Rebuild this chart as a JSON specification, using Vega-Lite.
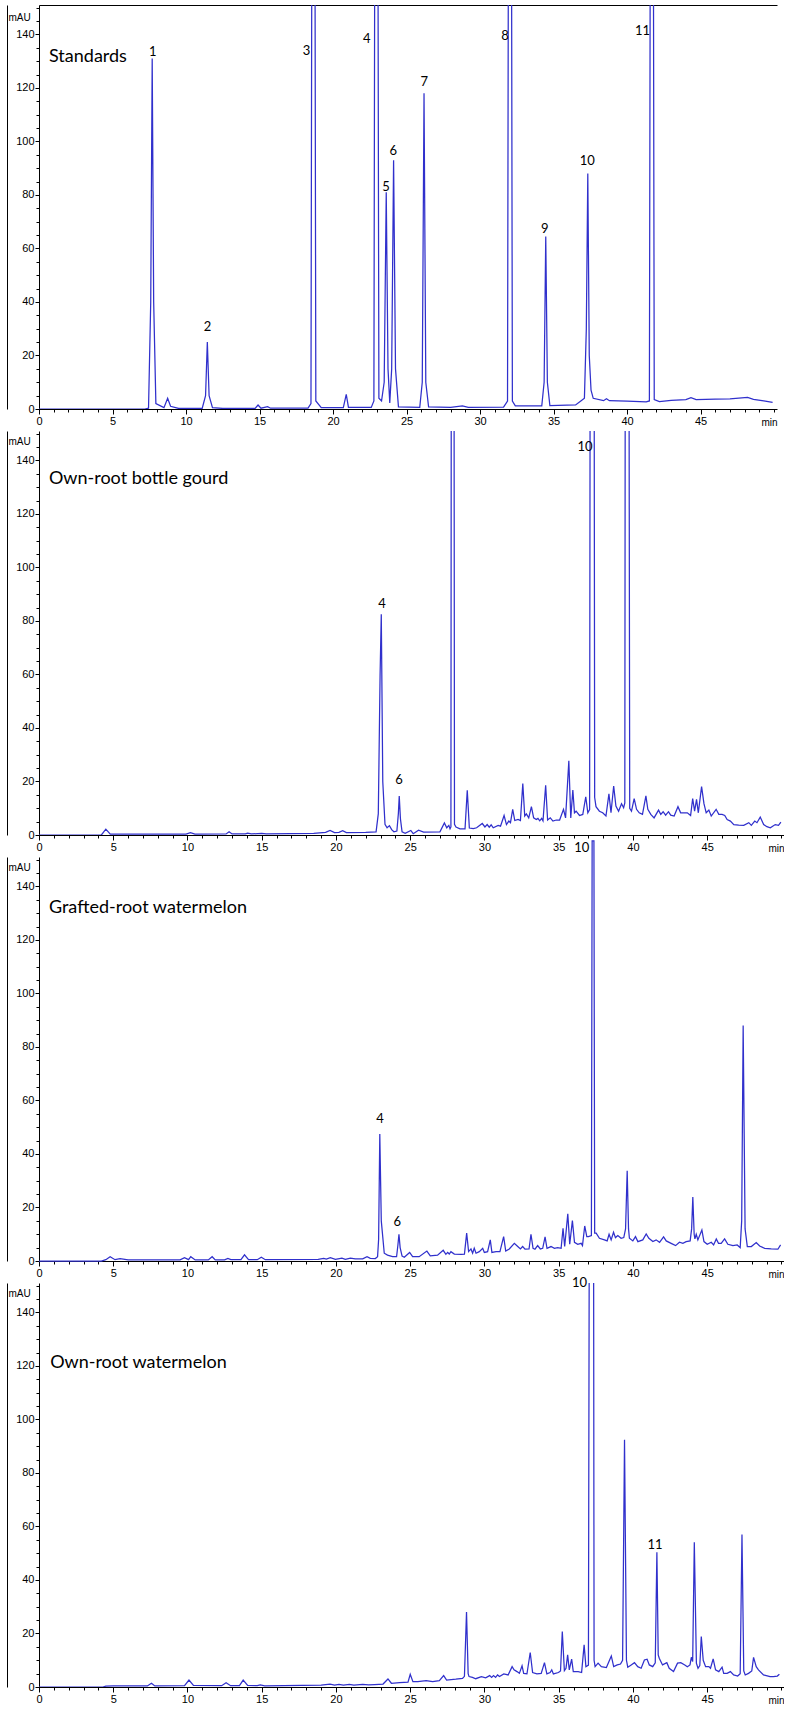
{
  "$schema": "https://vega.github.io/schema/vega-lite/v6.json",
  "padding": {"left": 7, "top": 5, "right": 0, "bottom": 0},
  "background": "white",
  "bounds": "flush",
  "spacing": 22,
  "config": {
    "view": {"stroke": null},
    "axis": {"domainColor": "#000", "tickColor": "#000", "labelColor": "#000", "titleColor": "#000", "labelFont": "Liberation Sans", "titleFont": "Liberation Sans", "domainWidth": 1, "tickWidth": 1, "grid": false}
  },
  "datasets": {
    "p1": [
      {"t":0,"v":0},{"t":7.2,"v":0},{"t":7.45,"v":0.3},{"t":7.6,"v":40},{"t":7.7,"v":131},{"t":7.8,"v":40},{"t":7.95,"v":2},{"t":8.5,"v":0.5},{"t":8.75,"v":4},{"t":8.95,"v":1},{"t":9.5,"v":0.2},{"t":11.1,"v":0.2},{"t":11.33,"v":5},{"t":11.45,"v":25},{"t":11.57,"v":5},{"t":11.8,"v":0.5},{"t":12.5,"v":0.2},{"t":14.7,"v":0.2},{"t":14.9,"v":1.5},{"t":15.1,"v":0.3},{"t":15.55,"v":0.9},{"t":15.75,"v":0.3},{"t":18.3,"v":0.3},{"t":18.5,"v":2},{"t":18.6,"v":300},{"t":18.73,"v":300},{"t":18.83,"v":3},{"t":19.2,"v":0.5},{"t":20.7,"v":0.5},{"t":20.9,"v":5.5},{"t":21.05,"v":0.6},{"t":22.6,"v":0.6},{"t":22.78,"v":3},{"t":22.88,"v":300},{"t":23.01,"v":300},{"t":23.12,"v":4},{"t":23.3,"v":3},{"t":23.48,"v":10},{"t":23.62,"v":81},{"t":23.74,"v":15},{"t":23.86,"v":2.3},{"t":23.99,"v":15},{"t":24.12,"v":93},{"t":24.25,"v":15},{"t":24.45,"v":0.8},{"t":25.9,"v":0.6},{"t":26.07,"v":10},{"t":26.19,"v":118},{"t":26.31,"v":10},{"t":26.5,"v":0.8},{"t":28,"v":0.6},{"t":28.8,"v":1.2},{"t":29.2,"v":0.6},{"t":31.6,"v":0.7},{"t":31.87,"v":3},{"t":31.97,"v":300},{"t":32.1,"v":300},{"t":32.2,"v":3},{"t":32.4,"v":1.2},{"t":34.2,"v":1.2},{"t":34.36,"v":10},{"t":34.47,"v":64.5},{"t":34.58,"v":10},{"t":34.75,"v":1.3},{"t":36.5,"v":1.5},{"t":36.9,"v":3.2},{"t":37.1,"v":4},{"t":37.23,"v":30},{"t":37.33,"v":88},{"t":37.43,"v":20},{"t":37.55,"v":7},{"t":37.7,"v":4},{"t":38.4,"v":3.1},{"t":38.6,"v":3.8},{"t":38.8,"v":3.1},{"t":40,"v":2.9},{"t":41.3,"v":2.7},{"t":41.52,"v":3},{"t":41.62,"v":300},{"t":41.75,"v":300},{"t":41.85,"v":3.5},{"t":42.2,"v":2.8},{"t":43,"v":3.2},{"t":44,"v":3.5},{"t":44.35,"v":4.2},{"t":44.7,"v":3.5},{"t":46,"v":3.7},{"t":47,"v":3.8},{"t":48.2,"v":4.3},{"t":48.6,"v":3.6},{"t":49.3,"v":3},{"t":49.9,"v":2.5}
    ],
    "p2": [
      {"t":0,"v":0},{"t":4.2,"v":0},{"t":4.5,"v":2.2},{"t":4.8,"v":0.3},{"t":6,"v":0.3},{"t":9.9,"v":0.3},{"t":10.2,"v":0.9},{"t":10.5,"v":0.3},{"t":12.6,"v":0.4},{"t":12.8,"v":1.2},{"t":13.0,"v":0.4},{"t":13.9,"v":0.4},{"t":14.05,"v":0.7},{"t":14.3,"v":0.4},{"t":15,"v":0.6},{"t":15.3,"v":0.4},{"t":18.5,"v":0.6},{"t":19.3,"v":1},{"t":19.6,"v":1.7},{"t":19.9,"v":0.9},{"t":20.2,"v":1},{"t":20.45,"v":1.6},{"t":20.7,"v":0.9},{"t":22,"v":1},{"t":22.7,"v":1.2},{"t":22.85,"v":8},{"t":22.97,"v":60},{"t":23.05,"v":82.5},{"t":23.15,"v":20},{"t":23.3,"v":4},{"t":23.44,"v":2.7},{"t":23.6,"v":3.5},{"t":23.75,"v":2},{"t":23.9,"v":1.2},{"t":24.1,"v":1.5},{"t":24.2,"v":8},{"t":24.26,"v":14.6},{"t":24.34,"v":6},{"t":24.45,"v":1.2},{"t":24.66,"v":0.6},{"t":25.04,"v":1.7},{"t":25.2,"v":0.5},{"t":25.56,"v":1.8},{"t":25.9,"v":1.1},{"t":27.0,"v":1.2},{"t":27.3,"v":4.5},{"t":27.46,"v":2.7},{"t":27.6,"v":3.6},{"t":27.68,"v":2.3},{"t":27.74,"v":3},{"t":27.78,"v":300},{"t":27.93,"v":300},{"t":27.98,"v":4},{"t":28.08,"v":3},{"t":28.35,"v":2.3},{"t":28.69,"v":2.3},{"t":28.84,"v":16.7},{"t":28.98,"v":2.6},{"t":29.25,"v":2.4},{"t":29.47,"v":2.7},{"t":29.85,"v":4.3},{"t":30.03,"v":3},{"t":30.18,"v":3.9},{"t":30.32,"v":2.9},{"t":30.45,"v":3.8},{"t":30.59,"v":2.7},{"t":30.92,"v":3.6},{"t":31.08,"v":3.3},{"t":31.32,"v":7.3},{"t":31.48,"v":3.9},{"t":31.64,"v":5.2},{"t":31.75,"v":4.6},{"t":31.9,"v":9.6},{"t":32.04,"v":5.4},{"t":32.26,"v":5.8},{"t":32.42,"v":5.4},{"t":32.58,"v":19.2},{"t":32.71,"v":7.1},{"t":32.82,"v":7.9},{"t":32.98,"v":6.4},{"t":33.16,"v":10.6},{"t":33.31,"v":6.4},{"t":33.49,"v":5.8},{"t":33.6,"v":6.2},{"t":33.72,"v":5.3},{"t":33.85,"v":6.2},{"t":33.94,"v":5.3},{"t":34.12,"v":18.6},{"t":34.25,"v":5.6},{"t":34.43,"v":6.4},{"t":34.61,"v":5.2},{"t":34.83,"v":5.6},{"t":35.06,"v":5.6},{"t":35.32,"v":9.6},{"t":35.46,"v":6.4},{"t":35.68,"v":27.7},{"t":35.81,"v":6.4},{"t":35.95,"v":16.8},{"t":36.06,"v":8.3},{"t":36.17,"v":8.9},{"t":36.4,"v":7.3},{"t":36.62,"v":7.7},{"t":36.82,"v":14.3},{"t":36.96,"v":8.3},{"t":37.08,"v":9.5},{"t":37.14,"v":300},{"t":37.36,"v":300},{"t":37.42,"v":14},{"t":37.51,"v":10.6},{"t":37.74,"v":8.9},{"t":37.96,"v":8.3},{"t":38.18,"v":7.1},{"t":38.38,"v":15.4},{"t":38.52,"v":8.3},{"t":38.7,"v":18.3},{"t":38.85,"v":10.8},{"t":39.03,"v":8.9},{"t":39.23,"v":11.7},{"t":39.37,"v":10.2},{"t":39.45,"v":12},{"t":39.5,"v":300},{"t":39.7,"v":300},{"t":39.78,"v":10},{"t":39.9,"v":8.9},{"t":40.08,"v":13.6},{"t":40.24,"v":9.6},{"t":40.42,"v":8.3},{"t":40.64,"v":7.7},{"t":40.87,"v":14.6},{"t":41.0,"v":9.6},{"t":41.2,"v":7.7},{"t":41.42,"v":6.4},{"t":41.72,"v":9.3},{"t":41.87,"v":7.7},{"t":42.03,"v":8.7},{"t":42.2,"v":7.4},{"t":42.39,"v":8.7},{"t":42.54,"v":7.4},{"t":42.77,"v":7.1},{"t":43.03,"v":10.6},{"t":43.21,"v":8.3},{"t":43.44,"v":8.3},{"t":43.66,"v":8.3},{"t":43.88,"v":7.3},{"t":44.02,"v":13.6},{"t":44.15,"v":8.9},{"t":44.28,"v":13.3},{"t":44.4,"v":8.3},{"t":44.62,"v":18.1},{"t":44.78,"v":11.7},{"t":44.93,"v":8.3},{"t":45.11,"v":9.3},{"t":45.27,"v":7.1},{"t":45.6,"v":9.6},{"t":45.78,"v":7.7},{"t":46.0,"v":7.7},{"t":46.18,"v":7.3},{"t":46.34,"v":5.8},{"t":46.56,"v":5.2},{"t":46.79,"v":3.9},{"t":47.12,"v":3.7},{"t":47.46,"v":3.6},{"t":47.8,"v":4.6},{"t":47.97,"v":3.6},{"t":48.2,"v":5.2},{"t":48.35,"v":4.6},{"t":48.57,"v":6.7},{"t":48.8,"v":3.9},{"t":49.02,"v":3.1},{"t":49.25,"v":2.7},{"t":49.58,"v":3.9},{"t":49.8,"v":3.6},{"t":49.96,"v":4.8}
    ],
    "p3": [
      {"t":0,"v":0},{"t":4.2,"v":0},{"t":4.5,"v":0.5},{"t":4.79,"v":1.6},{"t":5.12,"v":0.5},{"t":5.46,"v":0.9},{"t":6,"v":0.4},{"t":9.5,"v":0.4},{"t":9.8,"v":1.25},{"t":10.07,"v":0.5},{"t":10.22,"v":1.6},{"t":10.52,"v":0.4},{"t":11.4,"v":0.4},{"t":11.66,"v":1.6},{"t":11.87,"v":0.4},{"t":12.5,"v":0.4},{"t":12.72,"v":1},{"t":12.92,"v":0.5},{"t":13.6,"v":0.5},{"t":13.84,"v":2.3},{"t":14.11,"v":0.5},{"t":14.7,"v":0.5},{"t":14.97,"v":1.4},{"t":15.24,"v":0.5},{"t":18.8,"v":0.6},{"t":19.17,"v":1},{"t":19.35,"v":0.7},{"t":19.62,"v":1.25},{"t":19.96,"v":0.6},{"t":20.4,"v":1.1},{"t":20.63,"v":0.6},{"t":20.97,"v":1.1},{"t":21.3,"v":0.8},{"t":21.8,"v":0.8},{"t":22.09,"v":1.6},{"t":22.31,"v":1},{"t":22.65,"v":0.9},{"t":22.8,"v":1.6},{"t":22.87,"v":8},{"t":22.95,"v":47.5},{"t":23.05,"v":15},{"t":23.25,"v":2.9},{"t":23.47,"v":2.2},{"t":23.81,"v":1.6},{"t":24.08,"v":1.6},{"t":24.17,"v":6},{"t":24.24,"v":10},{"t":24.32,"v":5},{"t":24.45,"v":1.8},{"t":24.6,"v":1.4},{"t":24.96,"v":3.2},{"t":25.16,"v":1.6},{"t":25.6,"v":1.6},{"t":26.12,"v":3.7},{"t":26.35,"v":1.9},{"t":26.84,"v":2.2},{"t":27.22,"v":4},{"t":27.4,"v":2.5},{"t":27.52,"v":3.2},{"t":27.63,"v":2.6},{"t":27.74,"v":3.5},{"t":27.97,"v":2.6},{"t":28.42,"v":2.5},{"t":28.65,"v":2.6},{"t":28.8,"v":10.4},{"t":28.93,"v":3.5},{"t":29.09,"v":4.5},{"t":29.2,"v":2.9},{"t":29.31,"v":4.75},{"t":29.43,"v":2.9},{"t":29.65,"v":3.5},{"t":29.88,"v":4.75},{"t":29.99,"v":3.2},{"t":30.21,"v":3.5},{"t":30.39,"v":7.9},{"t":30.5,"v":3.2},{"t":30.78,"v":3.5},{"t":31.04,"v":3.5},{"t":31.29,"v":9.1},{"t":31.43,"v":3.7},{"t":31.67,"v":4.5},{"t":32.01,"v":6.6},{"t":32.24,"v":5.4},{"t":32.42,"v":4.5},{"t":32.57,"v":5.4},{"t":32.73,"v":4.4},{"t":33.0,"v":4.5},{"t":33.13,"v":10},{"t":33.27,"v":4.75},{"t":33.4,"v":4.4},{"t":33.58,"v":5.75},{"t":33.76,"v":4.5},{"t":33.92,"v":4.75},{"t":34.08,"v":9},{"t":34.21,"v":4.75},{"t":34.48,"v":5.4},{"t":34.71,"v":4.75},{"t":34.93,"v":5},{"t":35.16,"v":4.75},{"t":35.29,"v":12.25},{"t":35.4,"v":5.4},{"t":35.61,"v":17.6},{"t":35.74,"v":6.25},{"t":35.92,"v":15.1},{"t":36.06,"v":7},{"t":36.28,"v":6.25},{"t":36.51,"v":6.6},{"t":36.6,"v":5.75},{"t":36.75,"v":13.1},{"t":36.89,"v":9.1},{"t":37.0,"v":9.1},{"t":37.2,"v":9.5},{"t":37.25,"v":157},{"t":37.37,"v":157},{"t":37.42,"v":10.4},{"t":37.52,"v":10.4},{"t":37.74,"v":8.5},{"t":38.08,"v":7.9},{"t":38.26,"v":7.5},{"t":38.39,"v":10},{"t":38.53,"v":7.9},{"t":38.69,"v":10.75},{"t":38.82,"v":8.75},{"t":38.98,"v":9.5},{"t":39.2,"v":8.5},{"t":39.38,"v":8.75},{"t":39.5,"v":12},{"t":39.61,"v":33.75},{"t":39.7,"v":12},{"t":39.76,"v":8.5},{"t":39.99,"v":7.5},{"t":40.17,"v":9.1},{"t":40.33,"v":7.25},{"t":40.66,"v":7.9},{"t":40.89,"v":10.1},{"t":41.07,"v":8.5},{"t":41.34,"v":7.25},{"t":41.56,"v":7.9},{"t":41.79,"v":7},{"t":42.06,"v":9},{"t":42.24,"v":7.5},{"t":42.57,"v":6.6},{"t":42.87,"v":5.75},{"t":43.13,"v":7},{"t":43.36,"v":6.6},{"t":43.58,"v":7.25},{"t":43.85,"v":7.5},{"t":43.95,"v":12},{"t":44.03,"v":23.9},{"t":44.12,"v":10},{"t":44.17,"v":8.25},{"t":44.26,"v":10},{"t":44.37,"v":7.9},{"t":44.64,"v":11.6},{"t":44.78,"v":7.25},{"t":45.0,"v":6.25},{"t":45.27,"v":7},{"t":45.43,"v":6},{"t":45.61,"v":8.25},{"t":45.76,"v":6.6},{"t":45.94,"v":6.6},{"t":46.17,"v":8.25},{"t":46.39,"v":6.25},{"t":46.73,"v":5.75},{"t":47.02,"v":6},{"t":47.22,"v":5},{"t":47.32,"v":15},{"t":47.42,"v":88},{"t":47.55,"v":12},{"t":47.7,"v":5.4},{"t":47.97,"v":5.4},{"t":48.3,"v":6.9},{"t":48.53,"v":5.6},{"t":48.87,"v":4.75},{"t":49.31,"v":4.5},{"t":49.76,"v":4.4},{"t":49.94,"v":6}
    ],
    "p4": [
      {"t":0,"v":0},{"t":4.3,"v":0},{"t":4.5,"v":0.3},{"t":5,"v":0.4},{"t":7.3,"v":0.4},{"t":7.57,"v":1.4},{"t":7.8,"v":0.4},{"t":9.8,"v":0.5},{"t":10.1,"v":2.6},{"t":10.4,"v":0.6},{"t":12.3,"v":0.5},{"t":12.6,"v":1.6},{"t":12.9,"v":0.5},{"t":13.5,"v":0.5},{"t":13.75,"v":2.6},{"t":14.05,"v":0.6},{"t":14.7,"v":0.5},{"t":14.9,"v":0.8},{"t":15.2,"v":0.4},{"t":19,"v":0.7},{"t":19.6,"v":1.1},{"t":19.9,"v":0.7},{"t":20.2,"v":1},{"t":20.5,"v":0.7},{"t":20.9,"v":1},{"t":21.2,"v":0.7},{"t":21.8,"v":1},{"t":22.2,"v":0.8},{"t":22.6,"v":0.9},{"t":23.17,"v":1.1},{"t":23.5,"v":3},{"t":23.73,"v":1.4},{"t":24.29,"v":1.6},{"t":24.85,"v":1.8},{"t":25.0,"v":4.75},{"t":25.18,"v":2},{"t":25.51,"v":2},{"t":26.07,"v":2.4},{"t":26.51,"v":2},{"t":26.96,"v":2.4},{"t":27.25,"v":4.25},{"t":27.45,"v":2.6},{"t":28.07,"v":2.9},{"t":28.52,"v":3.2},{"t":28.65,"v":4},{"t":28.79,"v":28},{"t":28.9,"v":5},{"t":28.96,"v":3.9},{"t":29.19,"v":3.6},{"t":29.41,"v":3.1},{"t":29.79,"v":3.9},{"t":30.08,"v":3.4},{"t":30.35,"v":4.25},{"t":30.48,"v":3.6},{"t":30.61,"v":4.25},{"t":30.75,"v":3.6},{"t":30.88,"v":4.5},{"t":31.01,"v":3.9},{"t":31.3,"v":4.9},{"t":31.59,"v":4.5},{"t":31.86,"v":7.6},{"t":31.99,"v":6.4},{"t":32.19,"v":5.75},{"t":32.35,"v":5.1},{"t":32.53,"v":7.9},{"t":32.64,"v":5.1},{"t":32.86,"v":4.9},{"t":33.08,"v":12.9},{"t":33.24,"v":5.4},{"t":33.53,"v":4.9},{"t":33.82,"v":5.1},{"t":34.04,"v":9.1},{"t":34.2,"v":4.9},{"t":34.42,"v":5.4},{"t":34.53,"v":6.4},{"t":34.64,"v":4.9},{"t":34.98,"v":5.4},{"t":35.12,"v":6},{"t":35.24,"v":20.75},{"t":35.38,"v":6.1},{"t":35.49,"v":7},{"t":35.6,"v":12},{"t":35.71,"v":6.4},{"t":35.87,"v":10.4},{"t":35.98,"v":5.75},{"t":36.31,"v":5.75},{"t":36.54,"v":5.4},{"t":36.71,"v":15.75},{"t":36.83,"v":7.6},{"t":37.0,"v":8.2},{"t":37.1,"v":300},{"t":37.32,"v":300},{"t":37.38,"v":10},{"t":37.45,"v":7.6},{"t":37.65,"v":8.9},{"t":37.87,"v":7.6},{"t":38.21,"v":7.25},{"t":38.54,"v":11.6},{"t":38.7,"v":7.6},{"t":38.94,"v":8.25},{"t":39.16,"v":8.6},{"t":39.3,"v":10},{"t":39.43,"v":92.4},{"t":39.56,"v":10},{"t":39.65,"v":7.4},{"t":39.88,"v":8.25},{"t":40.1,"v":9.1},{"t":40.32,"v":7.6},{"t":40.55,"v":7},{"t":40.77,"v":10.1},{"t":40.95,"v":10.4},{"t":41.1,"v":8.25},{"t":41.33,"v":7.6},{"t":41.5,"v":9},{"t":41.61,"v":50.4},{"t":41.7,"v":12},{"t":41.77,"v":10.75},{"t":41.99,"v":8.25},{"t":42.28,"v":9.1},{"t":42.44,"v":7},{"t":42.73,"v":5.75},{"t":43.0,"v":8.9},{"t":43.22,"v":9.1},{"t":43.49,"v":8.25},{"t":43.66,"v":7.6},{"t":43.84,"v":8.25},{"t":43.93,"v":11.1},{"t":44.02,"v":9.5},{"t":44.13,"v":54.1},{"t":44.27,"v":8.9},{"t":44.38,"v":7},{"t":44.5,"v":8},{"t":44.6,"v":18.9},{"t":44.73,"v":10},{"t":44.89,"v":7.6},{"t":45.11,"v":7.6},{"t":45.22,"v":7},{"t":45.4,"v":10.5},{"t":45.56,"v":6.4},{"t":45.78,"v":5.75},{"t":46.0,"v":7.4},{"t":46.11,"v":5.1},{"t":46.34,"v":5.1},{"t":46.56,"v":5.75},{"t":46.78,"v":4.5},{"t":47.05,"v":4.1},{"t":47.22,"v":5},{"t":47.34,"v":57},{"t":47.46,"v":6},{"t":47.56,"v":4.5},{"t":47.78,"v":5.1},{"t":48.0,"v":6},{"t":48.12,"v":11.1},{"t":48.3,"v":7.6},{"t":48.45,"v":6.4},{"t":48.79,"v":4.5},{"t":49.23,"v":3.9},{"t":49.45,"v":3.9},{"t":49.72,"v":4.1},{"t":49.86,"v":4.75}
    ],
    "lab": [
      {"p":1,"label":"1","t":7.74,"v":133.3},{"p":1,"label":"2","t":11.46,"v":30.5},{"p":1,"label":"3","t":18.2,"v":133.7},{"p":1,"label":"4","t":22.3,"v":138.2},{"p":1,"label":"5","t":23.6,"v":83.1},{"p":1,"label":"6","t":24.1,"v":96.4},{"p":1,"label":"7","t":26.2,"v":122.3},{"p":1,"label":"8","t":31.7,"v":139.4},{"p":1,"label":"9","t":34.4,"v":67.2},{"p":1,"label":"10","t":37.3,"v":92.8},{"p":1,"label":"11","t":41.05,"v":141.3},
      {"p":2,"label":"4","t":23.1,"v":86.5},{"p":2,"label":"6","t":24.24,"v":20.6},{"p":2,"label":"10","t":36.77,"v":145.2},
      {"p":3,"label":"4","t":22.96,"v":53.1},{"p":3,"label":"6","t":24.13,"v":14.5},{"p":3,"label":"10","t":36.55,"v":154.4},
      {"p":4,"label":"10","t":36.4,"v":150.9},{"p":4,"label":"11","t":41.48,"v":53.1}
    ],
    "ttl": [
      {"p":1,"name":"Standards","t":0.68,"v":131.6},
      {"p":2,"name":"Own-root bottle gourd","t":0.67,"v":133},
      {"p":3,"name":"Grafted-root watermelon","t":0.67,"v":132},
      {"p":4,"name":"Own-root watermelon","t":0.75,"v":121}
    ]
  },
  "vconcat": [
    {
      "width": 738, "height": 404,
      "layer": [
        {"data": {"name": "p1"}, "mark": {"type": "line", "clip": true, "color": "#3030cc", "strokeWidth": 1.25},
         "encoding": {
           "x": {"field": "t", "type": "quantitative", "scale": {"domain": [0, 50.2], "nice": false, "zero": false},
                 "axis": {"values": [0,5,10,15,20,25,30,35,40,45], "title": "min", "titleX": 738, "titleY": 13, "titleAlign": "right", "titleBaseline": "middle", "titleFontSize": 10, "titleFontWeight": "normal", "tickSize": 5, "labelPadding": 1, "labelFontSize": 11, "labelFlush": false, "labelOverlap": false}},
           "y": {"field": "v", "type": "quantitative", "scale": {"domain": [0, 151], "nice": false},
                 "axis": {"values": [0,20,40,60,80,100,120,140], "title": "mAU", "titleAngle": 0, "titleX": -31, "titleY": 12, "titleAlign": "left", "titleBaseline": "middle", "titleFontSize": 10, "titleFontWeight": "normal", "tickSize": 4, "labelPadding": 1, "labelFontSize": 11}},
           "order": {"field": "t", "type": "quantitative"}}},
        {"data": {"name": "lab"}, "transform": [{"filter": "datum.p == 1"}],
         "mark": {"type": "text", "font": "Lato", "fontSize": 13, "color": "#000", "align": "center", "baseline": "middle"},
         "encoding": {
           "x": {"field": "t", "type": "quantitative", "scale": {"domain": [0, 50.2], "nice": false, "zero": false},
                 "axis": {"orient": "bottom", "values": [0,1,2,3,4,5,6,7,8,9,10,11,12,13,14,15,16,17,18,19,20,21,22,23,24,25,26,27,28,29,30,31,32,33,34,35,36,37,38,39,40,41,42,43,44,45,46,47,48,49,50], "labels": false, "tickSize": 3, "domain": false, "title": null}},
           "y": {"field": "v", "type": "quantitative", "scale": {"domain": [0, 151], "nice": false},
                 "axis": {"orient": "left", "values": [0,5,10,15,20,25,30,35,40,45,50,55,60,65,70,75,80,85,90,95,100,105,110,115,120,125,130,135,140,145,150], "labels": false, "tickSize": 3, "domain": false, "title": null}},
           "text": {"field": "label"}}},
        {"data": {"name": "ttl"}, "transform": [{"filter": "datum.p == 1"}],
         "mark": {"type": "text", "font": "Lato", "fontSize": 18, "color": "#000", "align": "left", "baseline": "middle"},
         "encoding": {
           "x": {"field": "t", "type": "quantitative", "scale": {"domain": [0, 50.2], "nice": false, "zero": false},
                 "axis": {"orient": "top", "ticks": false, "labels": false, "domain": true, "title": null}},
           "y": {"field": "v", "type": "quantitative", "scale": {"domain": [0, 151], "nice": false},
                 "axis": {"orient": "left", "offset": 32, "ticks": false, "labels": false, "domain": true, "title": null}},
           "text": {"field": "name"}}}
      ],
      "resolve": {"axis": {"x": "independent", "y": "independent"}}
    },
    {
      "width": 745, "height": 404,
      "layer": [
        {"data": {"name": "p2"}, "mark": {"type": "line", "clip": true, "color": "#3030cc", "strokeWidth": 1.25},
         "encoding": {
           "x": {"field": "t", "type": "quantitative", "scale": {"domain": [0, 50.17], "nice": false, "zero": false},
                 "axis": {"values": [0,5,10,15,20,25,30,35,40,45], "title": "min", "titleX": 745, "titleY": 13, "titleAlign": "right", "titleBaseline": "middle", "titleFontSize": 10, "titleFontWeight": "normal", "tickSize": 5, "labelPadding": 1, "labelFontSize": 11, "labelFlush": false, "labelOverlap": false}},
           "y": {"field": "v", "type": "quantitative", "scale": {"domain": [0, 151], "nice": false},
                 "axis": {"values": [0,20,40,60,80,100,120,140], "title": "mAU", "titleAngle": 0, "titleX": -31, "titleY": 10, "titleAlign": "left", "titleBaseline": "middle", "titleFontSize": 10, "titleFontWeight": "normal", "tickSize": 4, "labelPadding": 1, "labelFontSize": 11}},
           "order": {"field": "t", "type": "quantitative"}}},
        {"data": {"name": "lab"}, "transform": [{"filter": "datum.p == 2"}],
         "mark": {"type": "text", "font": "Lato", "fontSize": 13, "color": "#000", "align": "center", "baseline": "middle"},
         "encoding": {
           "x": {"field": "t", "type": "quantitative", "scale": {"domain": [0, 50.17], "nice": false, "zero": false},
                 "axis": {"orient": "bottom", "values": [0,1,2,3,4,5,6,7,8,9,10,11,12,13,14,15,16,17,18,19,20,21,22,23,24,25,26,27,28,29,30,31,32,33,34,35,36,37,38,39,40,41,42,43,44,45,46,47,48,49,50], "labels": false, "tickSize": 3, "domain": false, "title": null}},
           "y": {"field": "v", "type": "quantitative", "scale": {"domain": [0, 151], "nice": false},
                 "axis": {"orient": "left", "values": [0,5,10,15,20,25,30,35,40,45,50,55,60,65,70,75,80,85,90,95,100,105,110,115,120,125,130,135,140,145,150], "labels": false, "tickSize": 3, "domain": false, "title": null}},
           "text": {"field": "label"}}},
        {"data": {"name": "ttl"}, "transform": [{"filter": "datum.p == 2"}],
         "mark": {"type": "text", "font": "Lato", "fontSize": 18, "color": "#000", "align": "left", "baseline": "middle"},
         "encoding": {
           "x": {"field": "t", "type": "quantitative", "scale": {"domain": [0, 50.17], "nice": false, "zero": false}, "axis": null},
           "y": {"field": "v", "type": "quantitative", "scale": {"domain": [0, 151], "nice": false},
                 "axis": {"orient": "left", "offset": 32, "ticks": false, "labels": false, "domain": true, "title": null}},
           "text": {"field": "name"}}}
      ],
      "resolve": {"axis": {"x": "independent", "y": "independent"}}
    },
    {
      "width": 745, "height": 404,
      "layer": [
        {"data": {"name": "p3"}, "mark": {"type": "line", "clip": false, "color": "#3030cc", "strokeWidth": 1.25},
         "encoding": {
           "x": {"field": "t", "type": "quantitative", "scale": {"domain": [0, 50.17], "nice": false, "zero": false},
                 "axis": {"values": [0,5,10,15,20,25,30,35,40,45], "title": "min", "titleX": 745, "titleY": 13, "titleAlign": "right", "titleBaseline": "middle", "titleFontSize": 10, "titleFontWeight": "normal", "tickSize": 5, "labelPadding": 1, "labelFontSize": 11, "labelFlush": false, "labelOverlap": false}},
           "y": {"field": "v", "type": "quantitative", "scale": {"domain": [0, 151], "nice": false},
                 "axis": {"values": [0,20,40,60,80,100,120,140], "title": "mAU", "titleAngle": 0, "titleX": -31, "titleY": 10, "titleAlign": "left", "titleBaseline": "middle", "titleFontSize": 10, "titleFontWeight": "normal", "tickSize": 4, "labelPadding": 1, "labelFontSize": 11}},
           "order": {"field": "t", "type": "quantitative"}}},
        {"data": {"name": "lab"}, "transform": [{"filter": "datum.p == 3"}],
         "mark": {"type": "text", "font": "Lato", "fontSize": 13, "color": "#000", "align": "center", "baseline": "middle"},
         "encoding": {
           "x": {"field": "t", "type": "quantitative", "scale": {"domain": [0, 50.17], "nice": false, "zero": false},
                 "axis": {"orient": "bottom", "values": [0,1,2,3,4,5,6,7,8,9,10,11,12,13,14,15,16,17,18,19,20,21,22,23,24,25,26,27,28,29,30,31,32,33,34,35,36,37,38,39,40,41,42,43,44,45,46,47,48,49,50], "labels": false, "tickSize": 3, "domain": false, "title": null}},
           "y": {"field": "v", "type": "quantitative", "scale": {"domain": [0, 151], "nice": false},
                 "axis": {"orient": "left", "values": [0,5,10,15,20,25,30,35,40,45,50,55,60,65,70,75,80,85,90,95,100,105,110,115,120,125,130,135,140,145,150], "labels": false, "tickSize": 3, "domain": false, "title": null}},
           "text": {"field": "label"}}},
        {"data": {"name": "ttl"}, "transform": [{"filter": "datum.p == 3"}],
         "mark": {"type": "text", "font": "Lato", "fontSize": 18, "color": "#000", "align": "left", "baseline": "middle"},
         "encoding": {
           "x": {"field": "t", "type": "quantitative", "scale": {"domain": [0, 50.17], "nice": false, "zero": false}, "axis": null},
           "y": {"field": "v", "type": "quantitative", "scale": {"domain": [0, 151], "nice": false},
                 "axis": {"orient": "left", "offset": 32, "ticks": false, "labels": false, "domain": true, "title": null}},
           "text": {"field": "name"}}}
      ],
      "resolve": {"axis": {"x": "independent", "y": "independent"}}
    },
    {
      "width": 745, "height": 404,
      "layer": [
        {"data": {"name": "p4"}, "mark": {"type": "line", "clip": true, "color": "#3030cc", "strokeWidth": 1.25},
         "encoding": {
           "x": {"field": "t", "type": "quantitative", "scale": {"domain": [0, 50.17], "nice": false, "zero": false},
                 "axis": {"values": [0,5,10,15,20,25,30,35,40,45], "title": "min", "titleX": 745, "titleY": 13, "titleAlign": "right", "titleBaseline": "middle", "titleFontSize": 10, "titleFontWeight": "normal", "tickSize": 5, "labelPadding": 1, "labelFontSize": 11, "labelFlush": false, "labelOverlap": false}},
           "y": {"field": "v", "type": "quantitative", "scale": {"domain": [0, 151], "nice": false},
                 "axis": {"values": [0,20,40,60,80,100,120,140], "title": "mAU", "titleAngle": 0, "titleX": -31, "titleY": 10, "titleAlign": "left", "titleBaseline": "middle", "titleFontSize": 10, "titleFontWeight": "normal", "tickSize": 4, "labelPadding": 1, "labelFontSize": 11}},
           "order": {"field": "t", "type": "quantitative"}}},
        {"data": {"name": "lab"}, "transform": [{"filter": "datum.p == 4"}],
         "mark": {"type": "text", "font": "Lato", "fontSize": 13, "color": "#000", "align": "center", "baseline": "middle"},
         "encoding": {
           "x": {"field": "t", "type": "quantitative", "scale": {"domain": [0, 50.17], "nice": false, "zero": false},
                 "axis": {"orient": "bottom", "values": [0,1,2,3,4,5,6,7,8,9,10,11,12,13,14,15,16,17,18,19,20,21,22,23,24,25,26,27,28,29,30,31,32,33,34,35,36,37,38,39,40,41,42,43,44,45,46,47,48,49,50], "labels": false, "tickSize": 3, "domain": false, "title": null}},
           "y": {"field": "v", "type": "quantitative", "scale": {"domain": [0, 151], "nice": false},
                 "axis": {"orient": "left", "values": [0,5,10,15,20,25,30,35,40,45,50,55,60,65,70,75,80,85,90,95,100,105,110,115,120,125,130,135,140,145,150], "labels": false, "tickSize": 3, "domain": false, "title": null}},
           "text": {"field": "label"}}},
        {"data": {"name": "ttl"}, "transform": [{"filter": "datum.p == 4"}],
         "mark": {"type": "text", "font": "Lato", "fontSize": 18, "color": "#000", "align": "left", "baseline": "middle"},
         "encoding": {
           "x": {"field": "t", "type": "quantitative", "scale": {"domain": [0, 50.17], "nice": false, "zero": false}, "axis": null},
           "y": {"field": "v", "type": "quantitative", "scale": {"domain": [0, 151], "nice": false},
                 "axis": {"orient": "left", "offset": 32, "ticks": false, "labels": false, "domain": true, "title": null}},
           "text": {"field": "name"}}}
      ],
      "resolve": {"axis": {"x": "independent", "y": "independent"}}
    }
  ]
}
